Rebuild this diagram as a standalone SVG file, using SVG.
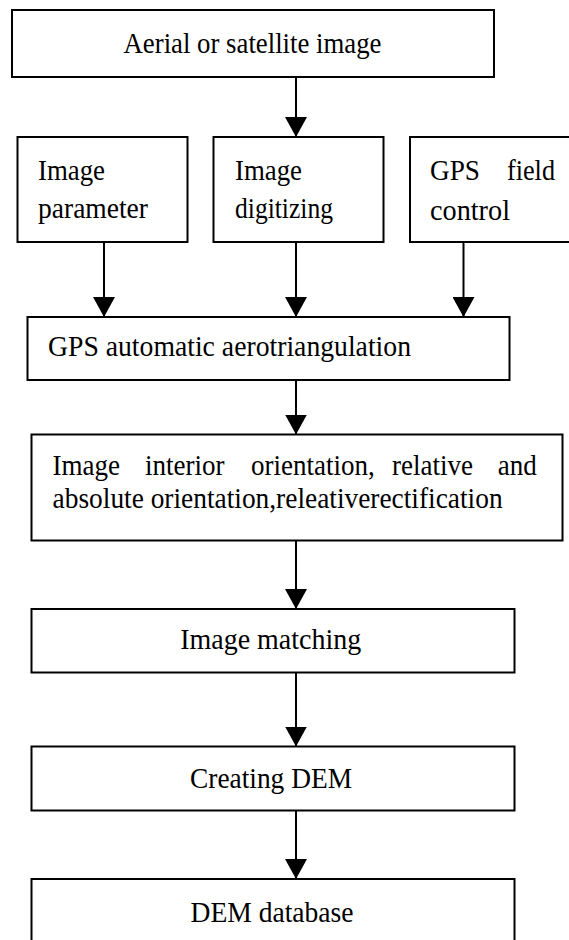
<svg xmlns="http://www.w3.org/2000/svg" width="569" height="940" viewBox="0 0 569 940">
  <style>
    .box { fill: #fff; stroke: #000; stroke-width: 2; }
    text { font-family: 'Liberation Serif', 'Times New Roman', serif; font-size: 29px; fill: #000; }
    .mid { text-anchor: middle; }
    .end { text-anchor: end; }
    .conn { stroke: #000; stroke-width: 2; fill: none; marker-end: url(#arrow); }
  </style>
  <defs>
    <marker id="arrow" viewBox="0 0 20 22" refX="20" refY="11" markerWidth="20" markerHeight="22" markerUnits="userSpaceOnUse" orient="auto">
      <path d="M0,0 L20,11 L0,22 Z" fill="#000"/>
    </marker>
  </defs>
  <rect width="569" height="940" fill="#fff"/>

  <!-- process steps -->
  <g id="source">
    <rect class="box" x="12" y="10" width="482" height="67"/>
    <text class="mid" x="252.5" y="53" textLength="258" lengthAdjust="spacingAndGlyphs">Aerial or satellite image</text>
  </g>

  <g id="parameter">
    <rect class="box" x="17.5" y="137" width="170" height="105"/>
    <text x="38" y="180" textLength="67" lengthAdjust="spacingAndGlyphs">Image</text>
    <text x="38" y="218" textLength="110" lengthAdjust="spacingAndGlyphs">parameter</text>
  </g>

  <g id="digitizing">
    <rect class="box" x="213.5" y="137" width="170" height="105"/>
    <text x="235" y="180" textLength="67" lengthAdjust="spacingAndGlyphs">Image</text>
    <text x="235" y="218" textLength="98" lengthAdjust="spacingAndGlyphs">digitizing</text>
  </g>

  <g id="field-control">
    <rect class="box" x="410" y="137" width="170" height="105"/>
    <text x="430" y="180" textLength="50" lengthAdjust="spacingAndGlyphs">GPS</text>
    <text x="507" y="180" textLength="48" lengthAdjust="spacingAndGlyphs">field</text>
    <text x="430" y="220" textLength="80" lengthAdjust="spacingAndGlyphs">control</text>
  </g>

  <g id="aerotriangulation">
    <rect class="box" x="27.5" y="317" width="482" height="63"/>
    <text x="48" y="356" textLength="363" lengthAdjust="spacingAndGlyphs">GPS automatic aerotriangulation</text>
  </g>

  <g id="orientation">
    <rect class="box" x="31.5" y="434.5" width="531" height="106"/>
    <!-- first line is justified word by word -->
    <text x="52.6" y="475" textLength="67.5" lengthAdjust="spacingAndGlyphs">Image</text>
    <text x="145" y="475" textLength="79.5" lengthAdjust="spacingAndGlyphs">interior</text>
    <text x="251" y="475" textLength="123.7" lengthAdjust="spacingAndGlyphs">orientation,</text>
    <text x="392" y="475" textLength="81" lengthAdjust="spacingAndGlyphs">relative</text>
    <text x="497.7" y="475" textLength="39" lengthAdjust="spacingAndGlyphs">and</text>
    <text x="52.6" y="508" textLength="450" lengthAdjust="spacingAndGlyphs">absolute orientation,releativerectification</text>
  </g>

  <g id="matching">
    <rect class="box" x="31.5" y="609" width="483" height="63.5"/>
    <text class="mid" x="270.7" y="649" textLength="181" lengthAdjust="spacingAndGlyphs">Image matching</text>
  </g>

  <g id="create-dem">
    <rect class="box" x="31.5" y="746.5" width="483" height="64"/>
    <text class="mid" x="271" y="788" textLength="162" lengthAdjust="spacingAndGlyphs">Creating DEM</text>
  </g>

  <g id="dem-database">
    <rect class="box" x="31.5" y="879" width="483" height="80"/>
    <text class="mid" x="272" y="922" textLength="163" lengthAdjust="spacingAndGlyphs">DEM database</text>
  </g>

  <!-- connectors -->
  <g id="connectors">
    <line class="conn" x1="296" y1="77" x2="296" y2="137"/>
    <line class="conn" x1="104" y1="242" x2="104" y2="317"/>
    <line class="conn" x1="296" y1="242" x2="296" y2="317"/>
    <line class="conn" x1="463.5" y1="242" x2="463.5" y2="317"/>
    <line class="conn" x1="296" y1="380" x2="296" y2="434.5"/>
    <line class="conn" x1="296" y1="540.5" x2="296" y2="609"/>
    <line class="conn" x1="296" y1="672.5" x2="296" y2="746.5"/>
    <line class="conn" x1="296" y1="810.5" x2="296" y2="879"/>
  </g>
</svg>
